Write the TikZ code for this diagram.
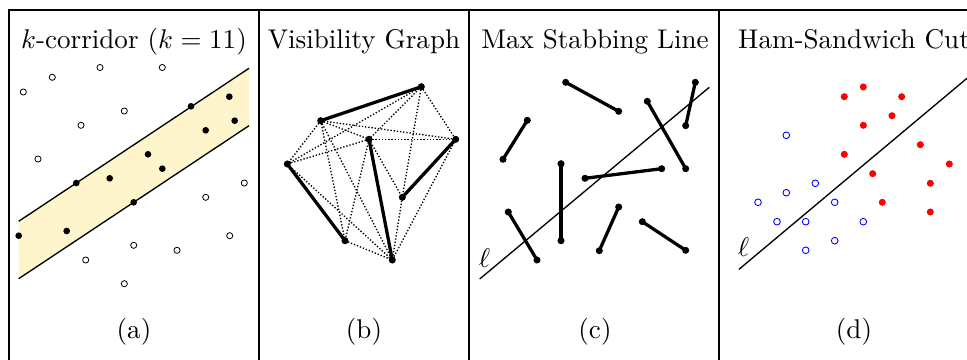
\documentclass[tikz,border=0pt]{standalone}
\begin{document}
\begin{tikzpicture}[x=0.75pt,y=-0.75pt,
  frame/.style={line width=1.1pt},
  lbl/.style={scale=2.03, anchor=base, inner sep=0pt},
  bdot/.style={circle, fill=black, inner sep=0pt, minimum size=5pt},
  odot/.style={circle, draw=black, fill=white, line width=0.6pt, inner sep=0pt, minimum size=4.6pt},
  sdot/.style={circle, fill=black, inner sep=0pt, minimum size=5.3pt},
  rdot/.style={circle, fill=red, inner sep=0pt, minimum size=5.3pt},
  bcirc/.style={circle, draw=blue, fill=white, line width=0.65pt, inner sep=0pt, minimum size=5pt},
  seg/.style={line width=2.45pt},
  vis/.style={line width=1pt, dash pattern=on 1pt off 1.4pt},
  cline/.style={line width=1pt},
  ell/.style={line width=1pt}
]
\definecolor{corr}{RGB}{255,245,205}
\useasboundingbox (0,0) rectangle (967,360);
\clip (0,0) rectangle (967,360);

% ---------- frame ----------
\draw[frame] (9,400) -- (9,10) -- (1000,10);
\draw[frame] (259,10) -- (259,400);
\draw[frame] (469,10) -- (469,400);
\draw[frame] (719,10) -- (719,400);

% ---------- titles & captions ----------
\node[lbl] (ta) at (134,49) {$k$-corridor ($k=11$)};
\node[lbl] (tb) at (364,49) {Visibility Graph};
\node[lbl] (tc) at (595,49) {Max Stabbing Line};
\node[lbl] (td) at (854,49) {Ham-Sandwich Cut};
\node[lbl] (ca) at (134,338) {(a)};
\node[lbl] (cb) at (364,338) {(b)};
\node[lbl] (cc) at (595,338) {(c)};
\node[lbl] (cd) at (854,338) {(d)};

% ---------- panel (a) ----------
\coordinate (u1) at (18.7,221.3);
\coordinate (u2) at (249,68.3);
\coordinate (l1) at (18.7,278.7);
\coordinate (l2) at (249,125.7);
\fill[corr] (u1) -- (u2) -- (l2) -- (l1) -- cycle;
\draw[cline] (u1) -- (u2);
\draw[cline] (l1) -- (l2);
\foreach \x/\y [count=\i] in {23.3/92,52.3/77.3,100/67.5,162.3/67.5,124.3/111,81/125.3,38/159,244.3/183,205.7/197.3,229.7/235.7,133.7/245.3,177/250.3,85.7/260,124.3/283.7}
  \node[odot] (ao\i) at (\x,\y) {};
\foreach \x/\y [count=\i] in {229.3/96.7,191/106.3,234.7/120.7,205.7/130.3,148/154.3,162.3/168.7,109.7/178.3,76.3/183,133.7/202.3,66.7/231,18.7/235.7}
  \node[bdot] (af\i) at (\x,\y) {};

% ---------- panel (b) ----------
\coordinate (A) at (421.3,86.7);
\coordinate (B) at (320.7,120.7);
\coordinate (C) at (369,139.3);
\coordinate (D) at (455.7,139.3);
\coordinate (E) at (287.3,164);
\coordinate (F) at (402.3,197.3);
\coordinate (G) at (345,240.7);
\coordinate (H) at (392.3,260);
\foreach \a/\b in {A/C,A/D,A/E,A/F,B/C,B/D,B/E,B/G,B/H,C/D,C/E,C/F,C/G,D/H,E/H,F/H,G/H}
  \draw[vis] (\a) -- (\b);
\draw[seg] (A) -- (B);
\draw[seg] (C) -- (H);
\draw[seg] (D) -- (F);
\draw[seg] (E) -- (G);
\foreach \n in {A,B,C,D,E,F,G,H}
  \node[sdot] (v\n) at (\n) {};

% ---------- panel (c) ----------
\coordinate (l3) at (479.7,279);
\coordinate (l4) at (709.3,87.3);
\draw[ell] (l3) -- (l4);
\foreach \xa/\ya/\xb/\yb [count=\i] in {565.7/82.3/618.7/111.3,527.3/120.3/503/159.3,647.3/101.3/685.7/168.7,695.3/82.3/685.7/125.7,561/163.7/561/240.7,585/178.3/661.7/168.7,508.3/212/537/260,618.7/207/599.3/250.7,642.3/221.7/685.7/250.3}
{
  \node[sdot] (p\i a) at (\xa,\ya) {};
  \node[sdot] (p\i b) at (\xb,\yb) {};
  \draw[seg] (p\i a.center) -- (p\i b.center);
}
\node[scale=2.03, inner sep=0pt] (lc) at (484.5,258) {$\ell$};

% ---------- panel (d) ----------
\coordinate (l5) at (739,269.3);
\coordinate (l6) at (995,54.8);
\draw[ell] (l5) -- (l6);
\node[scale=2.03, inner sep=0pt] (ld) at (743.5,247.5) {$\ell$};
\foreach \x/\y [count=\i] in {863.3/87,844.3/96.7,901.7/96.7,892/115.7,863.3/125.3,920.3/144.7,844.3/154.3,949.3/164,872.7/173.7,930.3/183.3,882.3/202.3,930.3/212}
  \node[rdot] (r\i) at (\x,\y) {};
\foreach \x/\y [count=\i] in {786.3/135.3,815.3/183.3,786.3/192.7,758/202.3,834.7/202.3,777/221.7,805.7/221.7,863.3/221.7,834.7/240.7,805.7/250.3}
  \node[bcirc] (b\i) at (\x,\y) {};
\end{tikzpicture}
\end{document}
